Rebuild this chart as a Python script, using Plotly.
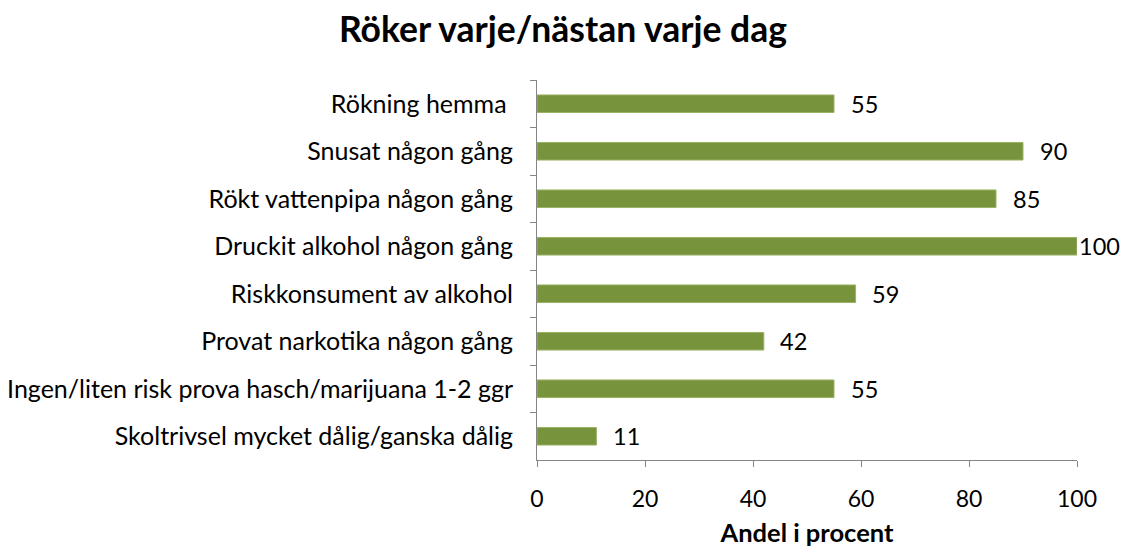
import plotly.graph_objects as go

categories = [
    "Rökning hemma ",
    "Snusat någon gång",
    "Rökt vattenpipa någon gång",
    "Druckit alkohol någon gång",
    "Riskkonsument av alkohol",
    "Provat narkotika någon gång",
    "Ingen/liten risk prova hasch/marijuana 1-2 ggr",
    "Skoltrivsel mycket dålig/ganska dålig",
]
values = [55, 90, 85, 100, 59, 42, 55, 11]

FONT = "Lato"
BAR = "#77933C"
AX = "#868686"

fig = go.Figure()
fig.add_trace(go.Bar(
    y=categories, x=values, orientation="h",
    marker=dict(color=BAR, line=dict(color="#9BB266", width=1)),
    width=0.37, hoverinfo="x+y",
))

for c, v in zip(categories, values):
    fig.add_annotation(
        x=v, y=c, xref="x", yref="y", text=str(v), showarrow=False,
        xanchor="left", yanchor="middle",
        xshift=(14.5 if v < 95 else 0),
        font=dict(family=FONT, size=23.5, color="#000000"),
    )

fig.update_layout(
    width=1126, height=547,
    margin=dict(l=537, r=49, t=80, b=87, autoexpand=False),
    paper_bgcolor="white", plot_bgcolor="white",
    showlegend=False,
    title=dict(
        text="<b>Röker varje/nästan varje dag</b>",
        x=563 / 1126, xref="container", xanchor="center",
        y=1 - 30 / 547, yref="container", yanchor="middle",
        font=dict(family=FONT, size=35.5, color="#000000"),
    ),
    font=dict(family=FONT, size=25, color="#000000"),
)

fig.update_xaxes(
    range=[0, 100], dtick=20, tick0=0, automargin=False,
    showline=True, linecolor=AX, linewidth=1,
    ticks="outside", ticklen=6, tickcolor=AX,
    showgrid=False, zeroline=False,
    ticklabelstandoff=12,
    tickfont=dict(family=FONT, size=23, color="#000000"),
    title=dict(text="<b>Andel i procent</b>", standoff=17,
               font=dict(family=FONT, size=25.5, color="#000000")),
)
fig.update_yaxes(
    autorange="reversed", automargin=False,
    showline=True, linecolor=AX, linewidth=1,
    ticks="outside", ticklen=6, tickcolor=AX, tickson="boundaries",
    showgrid=False, zeroline=False,
    ticklabelstandoff=18,
    tickfont=dict(family=FONT, size=25, color="#000000"),
)

fig.write_html("out.html", config={"displayModeBar": False},
               post_script="document.body.style.margin='0';")
